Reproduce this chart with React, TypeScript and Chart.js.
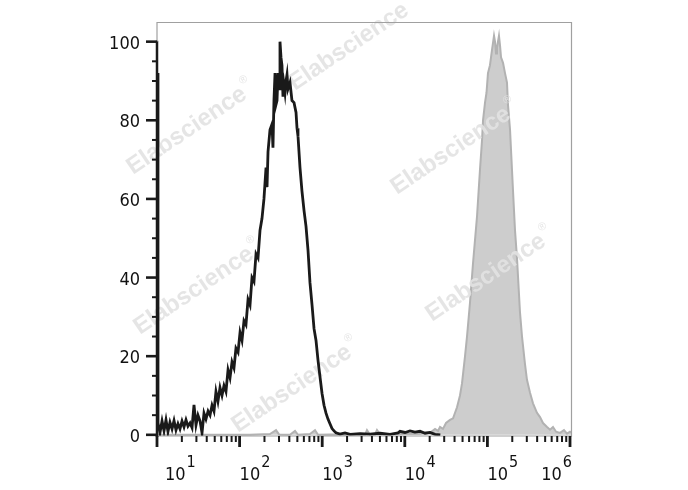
import React, { useEffect, useRef } from "react";
import { Chart, registerables } from "chart.js";

Chart.register(...registerables);

// Unstained / control histogram (black outline): fluorescence intensity vs % of max
const BLACK_X = [
  10, 10.28, 10.86, 11.51, 12.16, 12.85, 13.58, 14.35, 15.21, 16.07, 16.98, 17.95, 18.97, 20.09,
  21.23, 22.44, 23.71, 25.12, 26.55, 28.05, 29.65, 31.33, 33.19, 35.08, 37.07, 39.17, 41.5,
  43.85, 46.34, 48.98, 51.76, 54.7, 57.94, 61.24, 64.71, 68.39, 72.44, 76.56, 80.91, 85.51,
  90.36, 95.72, 101.2, 106.9, 113, 119.4, 126.5, 133.7, 141.3, 149.3, 158.1, 167.1, 176.6,
  186.6, 197.2, 208.9, 214.8, 220.8, 233.3, 246.6, 253.5, 260.6, 268.5, 276.1, 283.8, 291.7,
  304.1, 308.3, 317, 325.8, 335, 345.1, 354.8, 364.8, 375, 385.5, 407.4, 430.5, 456, 482,
  495.5, 509.3, 538.3, 568.9, 602.6, 636.8, 673, 711.2, 753.4, 796.2, 841.4, 889.2, 939.7,
  995.4, 1052, 1112, 1175, 1242, 1315, 1390, 1469, 1641, 1888, 2173, 2871, 3793, 5012, 6622,
  8279, 8750, 10050, 11560, 13270, 15280, 17580, 20180, 23230, 26920,
];
const BLACK_Y = [
  92, 3, 0.5, 3.5, 1, 3.8, 0.8, 3.2, 1.5, 3.6, 1.2, 2.8, 1.5, 3.5,
  2, 3.8, 2.2, 3, 1.8, 7.6, 2.5, 5, 3.5, 0.5, 5.5, 4, 6,
  5, 7.5, 6, 11, 8.5, 12, 10, 12.5, 11, 16.5, 14.5, 18.5, 17,
  22, 21, 26, 24, 29, 28, 34.4, 33, 40, 39, 46, 45, 52,
  55, 60, 68, 63, 72, 77.6, 79, 73, 85, 92, 84, 85, 92,
  88, 100, 96, 94, 86, 89, 87, 90, 91.6, 88, 89.6, 85, 84.5, 82,
  78, 76, 68, 62, 57, 53, 47, 38.7, 33, 27, 24, 19, 14.8,
  10.5, 7.5, 5.5, 4, 2.8, 1.6, 1, 0.5, 0.2, 0.5, 0.1, 0.3, 0.2, 0.4, 0.1,
  0.5, 0.9, 0.6, 1, 0.7, 0.9, 0.4, 0.6, 0.1, 0,
];

// Stained sample histogram (grey filled)
const GRAY_X = [
  10, 133.7, 233.3, 276.1, 299.9, 407.4, 468.8, 509.3, 711.2, 818.5, 889.2, 1242, 3296, 3483,
  3793, 4355, 4603, 5012, 8750, 15280, 17580, 20180, 23230, 25240, 26670, 28970, 31550,
  35240, 38370, 42850, 46560, 49200, 53580, 56620, 61520, 66990, 74820, 81280, 86100,
  88510, 93540, 97500, 101600, 107400, 113800, 120200, 123600, 127100, 130600, 138000,
  142200, 146200, 154500, 163300, 172600, 177400, 187900, 204200, 215800, 228000, 248300,
  262400, 285100, 301300, 328100, 356500, 398100, 433500, 471000, 527200, 572800, 622300,
  677700, 756800, 845300, 920400, 1000000, 1057000,
];
const GRAY_Y = [
  0, 0, 0.2, 1.2, 0.1, 0, 1, 0, 0.2, 1.2, 0, 0.1, 0, 1.2,
  0, 0.1, 1.2, 0.1, 0.2, 0.3, 0.6, 0.5, 1.5, 1, 2, 1.5, 3,
  3.8, 4.2, 7, 10, 13, 20, 25, 33.6, 43.7, 55.5, 67.4, 75,
  80, 84.5, 87, 92, 94, 98, 101.5, 100, 97, 98.5, 101.5,
  99, 96, 94.6, 92, 89.6, 84, 77.6, 62, 52, 45, 31,
  25, 18, 14, 10.7, 8, 5.6, 4.5, 3, 2, 1.3, 2,
  0.8, 0.5, 1.2, 0.3, 0.8, 0.5,
];

const Y_TICKS = [0, 20, 40, 60, 80, 100];
const Y_MINOR_STEP = 5;
const X_EXPONENTS = [1, 2, 3, 4, 5, 6];
const WATERMARK = "Elabscience";
const WATERMARK_POS: [number, number][] = [
  [133, 175],
  [295, 91],
  [397, 195],
  [140, 335],
  [432, 322],
  [238, 433],
];

const FONT = '"DejaVu Sans Condensed", "Liberation Sans", Arial, sans-serif';
const WM_FONT = '"Liberation Sans", Arial, sans-serif';

const flowPlugin = {
  id: "flowAxes",
  afterDatasetDraw(chart: any, args: any) {
    if (args.index !== 1) return;
    const ctx = chart.ctx;
    ctx.save();
    ctx.fillStyle = "rgba(226,226,226,0.9)";
    for (const [x, y] of WATERMARK_POS) {
      ctx.save();
      ctx.translate(x, y);
      ctx.rotate((-34 * Math.PI) / 180);
      ctx.font = `bold 24px ${WM_FONT}`;
      ctx.textBaseline = "alphabetic";
      ctx.textAlign = "left";
      ctx.fillText(WATERMARK, 0, 0);
      const w = ctx.measureText(WATERMARK).width;
      ctx.font = `11px ${WM_FONT}`;
      ctx.fillText("®", w + 2, -14);
      ctx.restore();
    }
    ctx.restore();
  },
  afterDraw(chart: any) {
    const ctx = chart.ctx;
    const { left, right, top, bottom } = chart.chartArea;
    const xs = chart.scales.x;
    const ys = chart.scales.y;
    ctx.save();
    // frame
    ctx.strokeStyle = "#a0a0a0";
    ctx.lineWidth = 1.2;
    ctx.beginPath();
    ctx.moveTo(left, top + 0.5);
    ctx.lineTo(right - 0.5, top + 0.5);
    ctx.lineTo(right - 0.5, bottom);
    ctx.lineTo(left, bottom);
    ctx.stroke();

    // y axis
    ctx.strokeStyle = "#1a1a1a";
    ctx.lineWidth = 2.5;
    ctx.beginPath();
    ctx.moveTo(left, ys.getPixelForValue(100) - 1);
    ctx.lineTo(left, bottom + 1);
    ctx.stroke();
    ctx.beginPath();
    ctx.strokeStyle = "#a0a0a0";
    ctx.lineWidth = 1.2;
    ctx.moveTo(left, top);
    ctx.lineTo(left, ys.getPixelForValue(100));
    ctx.stroke();

    ctx.strokeStyle = "#1a1a1a";
    for (let v = 0; v <= 100; v += Y_MINOR_STEP) {
      const y = ys.getPixelForValue(v);
      const major = Y_TICKS.includes(v);
      ctx.lineWidth = major ? 2.6 : 2;
      ctx.beginPath();
      ctx.moveTo(left - (major ? 11 : 5), y);
      ctx.lineTo(left, y);
      ctx.stroke();
    }
    ctx.fillStyle = "#111";
    ctx.font = `18px ${FONT}`;
    ctx.textAlign = "right";
    ctx.textBaseline = "alphabetic";
    for (const v of Y_TICKS) {
      const y = ys.getPixelForValue(v);
      ctx.fillText(String(v), left - 17, y + 7);
    }

    // x ticks
    for (let e = X_EXPONENTS[0]; e <= X_EXPONENTS[X_EXPONENTS.length - 1]; e++) {
      const base = Math.pow(10, e);
      const x = xs.getPixelForValue(base);
      ctx.lineWidth = 2.8;
      ctx.beginPath();
      ctx.moveTo(x, bottom);
      ctx.lineTo(x, bottom + 11);
      ctx.stroke();
      if (e < X_EXPONENTS[X_EXPONENTS.length - 1]) {
        for (let k = 2; k <= 9; k++) {
          const xm = xs.getPixelForValue(base * k);
          ctx.lineWidth = 2;
          ctx.beginPath();
          ctx.moveTo(xm, bottom);
          ctx.lineTo(xm, bottom + 6);
          ctx.stroke();
        }
      }
    }
    // x labels
    ctx.textAlign = "left";
    for (const e of X_EXPONENTS) {
      const x = xs.getPixelForValue(Math.pow(10, e));
      ctx.font = `18px ${FONT}`;
      const wb = ctx.measureText("10").width;
      ctx.font = `16px ${FONT}`;
      const we = ctx.measureText(String(e)).width;
      let lx = x;
      if (lx < left + 8) lx = left + 8;
      if (lx + wb + 1 + we > right) lx = right - wb - 1 - we;
      ctx.font = `18px ${FONT}`;
      ctx.fillText("10", lx, 480);
      ctx.font = `16px ${FONT}`;
      ctx.fillText(String(e), lx + wb + 1, 467);
    }
    ctx.restore();
  },
};

export default function App() {
  const ref = useRef<HTMLCanvasElement | null>(null);
  useEffect(() => {
    if (!ref.current) return;
    const chart = new Chart(ref.current, {
      type: "line",
      data: {
        datasets: [
          {
            label: "Control",
            data: BLACK_X.map((x, i) => ({ x, y: BLACK_Y[i] })),
            borderColor: "#1a1a1a",
            borderWidth: 2.8,
            pointRadius: 0,
            fill: false,
            tension: 0,
            order: 0,
          },
          {
            label: "Stained",
            data: GRAY_X.map((x, i) => ({ x, y: GRAY_Y[i] })),
            borderColor: "#b2b2b2",
            backgroundColor: "#cdcdcd",
            borderWidth: 2,
            pointRadius: 0,
            fill: "origin",
            tension: 0,
            order: 1,
          },
        ],
      },
      options: {
        animation: false,
        responsive: false,
        devicePixelRatio: 1,
        layout: { padding: { left: 157, right: 116, top: 22, bottom: 54 } },
        scales: {
          x: { type: "logarithmic", min: 10, max: 1057000, display: false },
          y: { type: "linear", min: -0.3, max: 105, display: false },
        },
        plugins: { legend: { display: false }, tooltip: { enabled: false } },
        events: [],
      },
      plugins: [flowPlugin],
    });
    return () => chart.destroy();
  }, []);
  return (
    <div style={{ position: "absolute", left: 0, top: 0, width: 688, height: 490, background: "#fff" }}>
      <canvas ref={ref} width={688} height={490} style={{ width: 688, height: 490 }} />
    </div>
  );
}
